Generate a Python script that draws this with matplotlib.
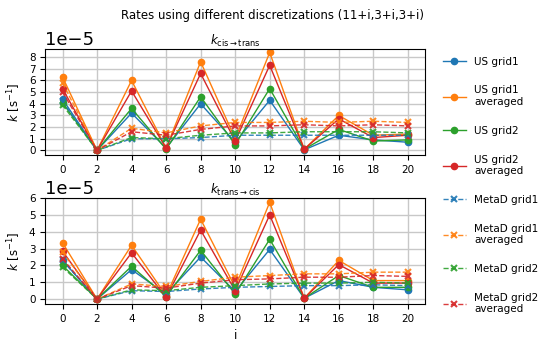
import numpy as np
import matplotlib
matplotlib.use('Agg')
import matplotlib.pyplot as plt

i_vals = [0, 2, 4, 6, 8, 10, 12, 14, 16, 18, 20]

labels = ['US grid1', 'US grid1\naveraged', 'US grid2', 'US grid2\naveraged',
          'MetaD grid1', 'MetaD grid1\naveraged', 'MetaD grid2', 'MetaD grid2\naveraged']

# k_cis->trans, units of 1e-5 s^-1
ct_us1 = [4.4, 0.0, 3.2, 0.2, 4.0, 0.7, 4.3, 0.05, 1.3, 0.9, 0.7]
ct_us1_avg = [6.3, 0.0, 6.0, 0.2, 7.6, 1.0, 8.4, 0.1, 3.0, 1.3, 1.4]
ct_us2 = [4.1, 0.0, 3.6, 0.1, 4.6, 0.5, 5.3, 0.1, 1.8, 0.8, 0.9]
ct_us2_avg = [5.3, 0.0, 5.1, 0.2, 6.6, 0.8, 7.3, 0.1, 2.7, 1.1, 1.3]
ct_md1 = [4.2, 0.0, 1.0, 1.0, 1.1, 1.3, 1.3, 1.3, 1.3, 1.3, 1.3]
ct_md1_avg = [5.8, 0.0, 1.9, 1.5, 2.1, 2.4, 2.4, 2.5, 2.4, 2.5, 2.4]
ct_md2 = [3.9, 0.0, 1.1, 1.0, 1.3, 1.5, 1.5, 1.6, 1.6, 1.6, 1.5]
ct_md2_avg = [5.0, 0.0, 1.6, 1.3, 1.8, 2.1, 2.1, 2.2, 2.1, 2.2, 2.1]

# k_trans->cis, units of 1e-5 s^-1
tc_us1 = [2.3, 0.0, 1.75, 0.3, 2.5, 0.45, 2.95, 0.05, 1.1, 0.7, 0.55]
tc_us1_avg = [3.35, 0.0, 3.2, 0.2, 4.75, 0.7, 5.75, 0.05, 2.3, 1.1, 1.1]
tc_us2 = [2.0, 0.0, 1.95, 0.15, 2.9, 0.3, 3.55, 0.05, 1.4, 0.7, 0.7]
tc_us2_avg = [2.85, 0.0, 2.75, 0.1, 4.1, 0.5, 5.0, 0.05, 2.05, 0.95, 0.95]
tc_md1 = [2.3, 0.0, 0.5, 0.45, 0.6, 0.7, 0.75, 0.8, 0.8, 0.85, 0.8]
tc_md1_avg = [2.8, 0.0, 0.9, 0.75, 1.05, 1.3, 1.4, 1.5, 1.5, 1.6, 1.6]
tc_md2 = [1.9, 0.0, 0.55, 0.5, 0.7, 0.8, 0.9, 0.95, 0.95, 1.0, 0.95]
tc_md2_avg = [2.4, 0.0, 0.8, 0.65, 0.95, 1.15, 1.2, 1.3, 1.3, 1.4, 1.35]

ct_series = [ct_us1, ct_us1_avg, ct_us2, ct_us2_avg, ct_md1, ct_md1_avg, ct_md2, ct_md2_avg]
tc_series = [tc_us1, tc_us1_avg, tc_us2, tc_us2_avg, tc_md1, tc_md1_avg, tc_md2, tc_md2_avg]

colors = ['C0', 'C1', 'C2', 'C3', 'C0', 'C1', 'C2', 'C3']

fig = plt.figure(figsize=(5.45, 3.5), dpi=100)
ax1 = fig.add_axes([0.083, 0.557, 0.697, 0.303])
ax2 = fig.add_axes([0.083, 0.131, 0.697, 0.303])

handles = []
for ax, series, ttl in [(ax1, ct_series, r'$k_{\mathrm{cis}\rightarrow\mathrm{trans}}$'),
                        (ax2, tc_series, r'$k_{\mathrm{trans}\rightarrow\mathrm{cis}}$')]:
    hs = []
    for n, ys in enumerate(series):
        y = np.array(ys) * 1e-5
        if n < 4:
            h, = ax.plot(i_vals, y, '-o', color=colors[n], lw=1, ms=4.5)
        else:
            h, = ax.plot(i_vals, y, '--x', color=colors[n], lw=1, ms=4.5, mew=1.5, alpha=0.9)
        hs.append(h)
    handles = hs
    ax.grid(True, color='#c8c8c8', lw=1)
    ax.set_axisbelow(True)
    ax.set_xlim(-1, 21)
    ax.set_xticks(i_vals)
    ax.tick_params(labelsize=7.5)
    ax.yaxis.get_offset_text().set_fontsize(13)
    ax.set_ylabel(r'$k$ [s$^{-1}$]', fontsize=8.5)
    ax.set_title(ttl, fontsize=8.5, pad=3)

ax1.set_ylim(-0.4e-5, 8.7e-5)
ax1.set_yticks(np.arange(0, 9) * 1e-5)
ax2.set_ylim(-0.3e-5, 6.0e-5)
ax2.set_yticks(np.arange(0, 7) * 1e-5)
ax2.set_xlabel('i', fontsize=8.5)

fig.suptitle('Rates using different discretizations (11+i,3+i,3+i)', fontsize=8.5, y=0.975)
fig.legend(handles, labels, loc='center left', bbox_to_anchor=(0.795, 0.47),
           frameon=False, fontsize=7.5, labelspacing=1.8, handlelength=2.2)

fig.savefig('out.png', dpi=100)
